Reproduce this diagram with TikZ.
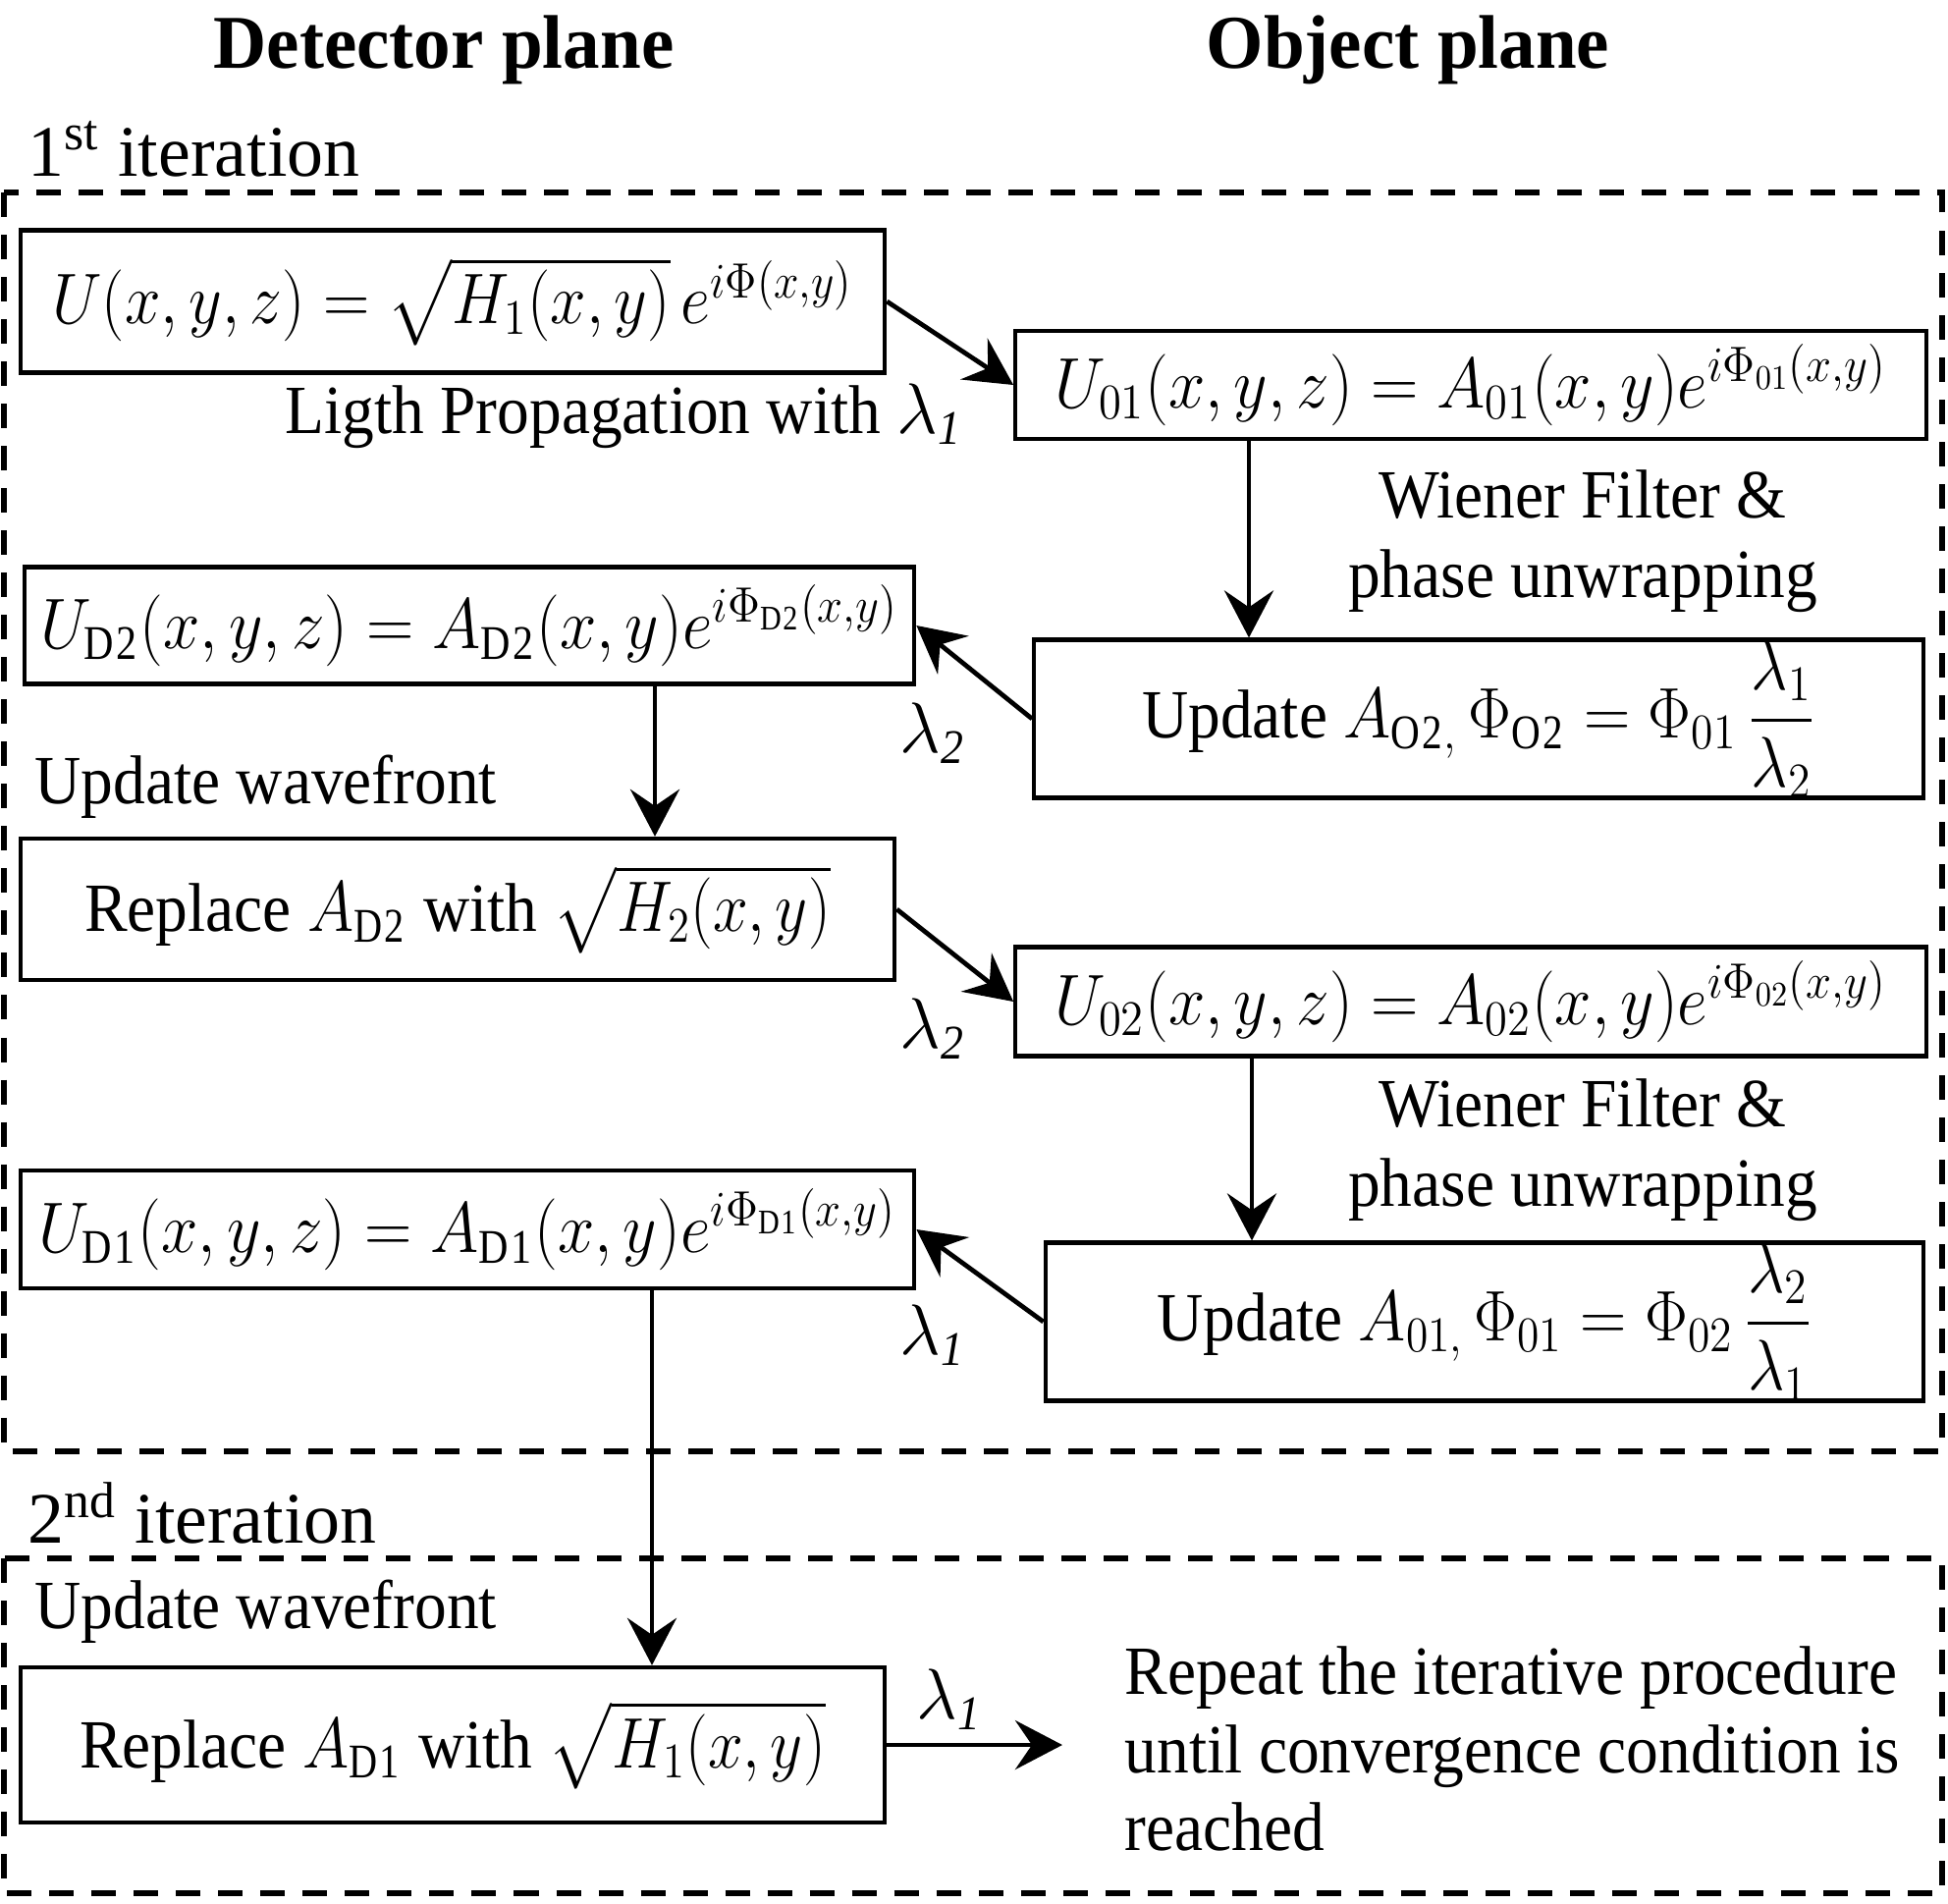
\documentclass[tikz,border=0pt]{standalone}
\usepackage{amsmath}
\usepackage{graphicx}
\usepackage{fontspec}
\setmainfont{Liberation Serif}[FakeStretch=0.93]
\newfontfamily\ttlfont{Liberation Serif}[FakeStretch=0.97]
\newfontfamily\plainfont{Liberation Serif}
\newcommand{\sqz}[2][0.9]{\scalebox{#1}[1]{$#2$}}
\usetikzlibrary{arrows.meta}
\begin{document}
\begin{tikzpicture}[x=0.01cm,y=-0.01cm,
  box/.style={draw, line width=1.2pt, inner sep=0pt, font=\fontsize{20}{24}\selectfont},
  arr/.style={-{Stealth[length=0.48cm,width=0.5cm,inset=0.17cm]}, line width=1.35pt},
  frame/.style={draw, line width=1.8pt, dash pattern=on 0.25cm off 0.18cm},
  lbl/.style={font=\fontsize{20}{23}\selectfont, inner sep=0pt},
  ttl/.style={font=\fontsize{22}{26}\selectfont\ttlfont\bfseries, inner sep=0pt},
  itl/.style={font=\fontsize{21}{25}\selectfont\plainfont, inner sep=0pt, anchor=west}]
\useasboundingbox (0,0) rectangle (1984,1938);
% frames
\draw[frame] (4,196) rectangle (1978,1478);
\draw[frame] (4,1587) rectangle (1978,1928);
% titles
\node[ttl] (t1) at (452,51) {Detector plane};
\node[ttl] (t2) at (1434,51) {Object plane};
\node[itl] (it1) at (28,152) {1\textsuperscript{st} iteration};
\node[itl] (it2) at (28,1541) {2\textsuperscript{nd} iteration};
% boxes
\node[box, minimum width=8.80cm, minimum height=1.45cm] (b1) at (461,307)
  {\sqz[0.9]{U(x,y,z) = \sqrt{H_1(x,y)}\,e^{i\Phi(x,y)}}};
\node[box, minimum width=9.27cm, minimum height=1.10cm] (o1) at (1498,392)
  {\sqz[0.92]{U_{01}(x,y,z) = A_{01}(x,y)e^{i\Phi_{01}(x,y)}}};
\node[box, minimum width=9.06cm, minimum height=1.19cm] (d2) at (478,637)
  {\sqz[0.92]{U_{\mathrm{D2}}(x,y,z) = A_{\mathrm{D2}}(x,y)e^{i\Phi_{\mathrm{D2}}(x,y)}}};
\node[box, minimum width=9.05cm, minimum height=1.55cm] (u2) at (1506,732)
  {Update \sqz[0.9]{A_{\mathrm{O2},}\,\Phi_{\mathrm{O2}} = \Phi_{01}\,\dfrac{\lambda_1}{\lambda_2}}};
\node[box, minimum width=8.90cm, minimum height=1.44cm] (r2) at (466,926)
  {Replace \sqz[0.88]{A_{\mathrm{D2}}} with \sqz[0.88]{\sqrt{H_2(x,y)}}};
\node[box, minimum width=9.27cm, minimum height=1.11cm] (o2) at (1498,1020)
  {\sqz[0.92]{U_{02}(x,y,z) = A_{02}(x,y)e^{i\Phi_{02}(x,y)}}};
\node[box, minimum width=9.10cm, minimum height=1.20cm] (d1) at (476,1252)
  {\sqz[0.92]{U_{\mathrm{D1}}(x,y,z) = A_{\mathrm{D1}}(x,y)e^{i\Phi_{\mathrm{D1}}(x,y)}}};
\node[box, minimum width=8.94cm, minimum height=1.54cm] (u1) at (1512,1346)
  {Update \sqz[0.9]{A_{01,}\,\Phi_{01} = \Phi_{02}\,\dfrac{\lambda_2}{\lambda_1}}};
\node[box, minimum width=8.80cm, minimum height=1.58cm] (r1) at (461,1777)
  {Replace \sqz[0.88]{A_{\mathrm{D1}}} with \sqz[0.88]{\sqrt{H_1(x,y)}}};
% labels
\node[lbl] (lp) at (636,424) {Ligth Propagation with $\lambda_{\mathit{1}}$};
\node[lbl, align=center] (w1) at (1612,551) {Wiener Filter \&\\phase unwrapping};
\node[lbl, align=center] (w2) at (1612,1171) {Wiener Filter \&\\phase unwrapping};
\node[lbl, anchor=west] (uw1) at (35,801) {Update wavefront};
\node[lbl, anchor=west] (uw2) at (35,1641) {Update wavefront};
\node[lbl] (la) at (951,747) {$\lambda_{\mathit{2}}$};
\node[lbl] (lb) at (951,1048) {$\lambda_{\mathit{2}}$};
\node[lbl] (lc) at (951,1360) {$\lambda_{\mathit{1}}$};
\node[lbl] (ld) at (968,1731) {$\lambda_{\mathit{1}}$};
\node[lbl, anchor=west, align=left, font=\fontsize{20}{22.6}\selectfont] (rep) at (1145,1781)
  {Repeat the iterative procedure\\until convergence condition is\\reached};
% connectors
\coordinate (xa) at (1272,0);
\coordinate (xb) at (667,0);
\coordinate (xc) at (1275,0);
\coordinate (xd) at (664,0);
\coordinate (fin) at (1082,1777);
\draw[arr] (b1.east) -- (o1.west);
\draw[arr] (o1.south -| xa) -- (u2.north -| xa);
\draw[arr] (u2.west) -- (d2.east);
\draw[arr] (d2.south -| xb) -- (r2.north -| xb);
\draw[arr] (r2.east) -- (o2.west);
\draw[arr] (o2.south -| xc) -- (u1.north -| xc);
\draw[arr] (u1.west) -- (d1.east);
\draw[arr] (d1.south -| xd) -- (r1.north -| xd);
\draw[arr] (r1.east) -- (fin);
\end{tikzpicture}
\end{document}
